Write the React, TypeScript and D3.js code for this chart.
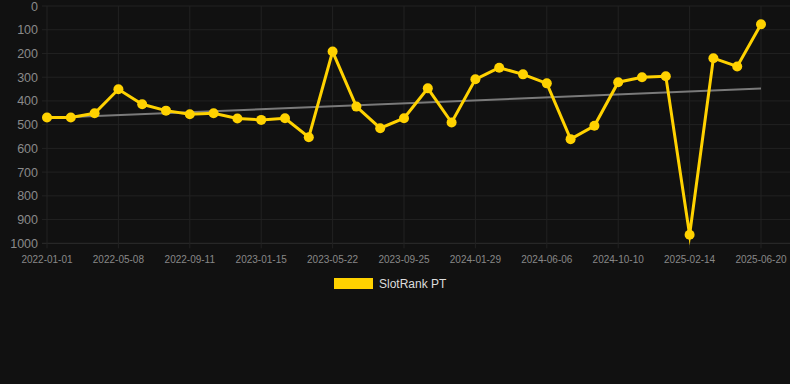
import React from "react";
import * as d3 from "d3";

const dates = [
  "2022-01-01", "2022-02-12", "2022-03-26", "2022-05-08", "2022-06-19", "2022-07-31",
  "2022-09-11", "2022-10-23", "2022-12-04", "2023-01-15", "2023-02-26", "2023-04-09",
  "2023-05-22", "2023-07-03", "2023-08-14", "2023-09-25", "2023-11-06", "2023-12-18",
  "2024-01-29", "2024-03-11", "2024-04-23", "2024-06-06", "2024-07-18", "2024-08-29",
  "2024-10-10", "2024-11-21", "2025-01-02", "2025-02-14", "2025-03-28", "2025-05-09",
  "2025-06-20",
];
const slotRank = [
  470, 470, 452, 351, 414, 441, 456, 452, 474, 480, 473, 553, 192, 424, 515, 473,
  347, 491, 309, 260, 288, 326, 561, 505, 321, 300, 296, 964, 220, 255, 77,
];
const trend = [472, 348];
const yTicks = [0, 100, 200, 300, 400, 500, 600, 700, 800, 900, 1000];
const tickDates = dates.filter((_, i) => i % 3 === 0);
const seriesName = "SlotRank PT";

const W = 790;
const H = 384;
const LEFT = 47;
const RIGHT = 761;
const TOP = 6;
const BOTTOM = 243.3;
const YELLOW = "#ffd200";
const FONT = "'Liberation Sans', Arial, sans-serif";

export default function App() {
  const x = d3.scalePoint<string>().domain(dates).range([LEFT, RIGHT]);
  const y = d3.scaleLinear().domain([0, 1000]).range([TOP, BOTTOM]);
  const line = d3
    .line<number>()
    .x((_, i) => x(dates[i]) as number)
    .y((d) => y(d));
  const trendPath = `M${x(dates[0])},${y(trend[0])}L${x(dates[dates.length - 1])},${y(trend[1])}`;

  return (
    <svg
      width={W}
      height={H}
      style={{ position: "absolute", left: 0, top: 0, background: "#111111" }}
    >
      <rect x={0} y={0} width={W} height={H} fill="#111111" />
      {yTicks.map((t) => (
        <line
          key={"h" + t}
          x1={LEFT - 5}
          x2={W}
          y1={y(t)}
          y2={y(t)}
          stroke={t === 1000 ? "#2e2e2e" : "#222222"}
          strokeWidth={1}
        />
      ))}
      {tickDates.map((d) => (
        <line
          key={"v" + d}
          x1={x(d)}
          x2={x(d)}
          y1={TOP}
          y2={BOTTOM + 5}
          stroke="#222222"
          strokeWidth={1}
        />
      ))}
      {yTicks.map((t) => (
        <text
          key={"yl" + t}
          x={38}
          y={y(t) + 4.5}
          textAnchor="end"
          fill="#8a8a8a"
          fontSize={12.5}
          fontFamily={FONT}
        >
          {t}
        </text>
      ))}
      {tickDates.map((d) => (
        <text
          key={"xl" + d}
          x={x(d)}
          y={263}
          textAnchor="middle"
          fill="#888888"
          fontSize={10}
          fontFamily={FONT}
        >
          {d}
        </text>
      ))}
      <path d={trendPath} stroke="#7a7a7a" strokeWidth={2} fill="none" />
      <path
        d={line(slotRank) || ""}
        stroke={YELLOW}
        strokeWidth={3}
        fill="none"
        strokeLinejoin="miter"
        strokeMiterlimit={10}
      />
      {slotRank.map((v, i) => (
        <circle key={"p" + i} cx={x(dates[i])} cy={y(v)} r={5} fill={YELLOW} />
      ))}
      <rect x={334} y={278} width={39} height={11} fill={YELLOW} />
      <text x={379} y={288} fill="#dddddd" fontSize={12} fontFamily={FONT}>
        {seriesName}
      </text>
    </svg>
  );
}
